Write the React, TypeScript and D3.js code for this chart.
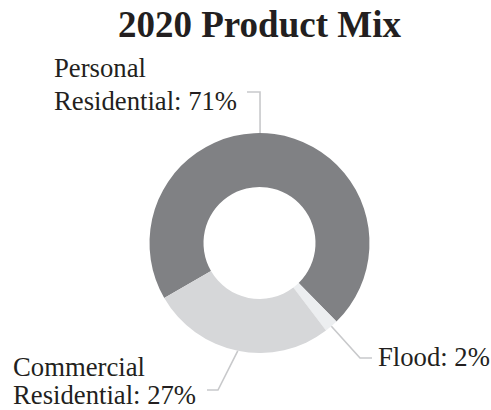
import React from "react";
import * as d3 from "d3";

const categories = ["Personal Residential", "Flood", "Commercial Residential"];
const values = [71, 2, 27];
const labelLines = [["Personal", "Residential: 71%"], ["Flood: 2%"], ["Commercial", "Residential: 27%"]];
const colors = ["#808184", "#eceef0", "#d6d7d9"];

const W = 491;
const H = 410;
const cx = 259.5;
const cy = 243;
const rOuter = 110;
const rInner = 56;

// label layout: text position, leader elbow, leader end, anchor angle (deg, null = slice middle)
const labelLayout = [
  { x: 54, y: [77, 110], elbow: [260, 92], end: [247, 92], anchorDeg: 0.3 },
  { x: 378, y: [366], elbow: [360, 358], end: [372, 358], anchorDeg: null },
  { x: 13, y: [376, 404], elbow: [218, 390], end: [207, 390], anchorDeg: null },
];

export default function App() {
  const start = (-120 * Math.PI) / 180;
  const pie = d3
    .pie<number>()
    .sort(null)
    .value((d) => d)
    .startAngle(start)
    .endAngle(start + 2 * Math.PI);
  const arcs = pie(values);
  const arcGen = d3.arc<d3.PieArcDatum<number>>().innerRadius(rInner).outerRadius(rOuter);

  const font = "'Liberation Serif', 'Times New Roman', serif";

  return (
    <svg
      width={W}
      height={H}
      style={{ position: "absolute", left: 0, top: 0, background: "#fff" }}
    >
      <text
        x={cx}
        y={37}
        textAnchor="middle"
        fontFamily={font}
        fontWeight="bold"
        fontSize={37}
        fill="#231f20"
      >
        2020 Product Mix
      </text>
      <g transform={`translate(${cx},${cy})`}>
        {arcs.map((a, i) => (
          <path key={categories[i]} d={arcGen(a) || ""} fill={colors[i]} />
        ))}
      </g>
      {arcs.map((a, i) => {
        const L = labelLayout[i];
        const ang = L.anchorDeg !== null ? (L.anchorDeg * Math.PI) / 180 : (a.startAngle + a.endAngle) / 2;
        const ax = cx + rOuter * Math.sin(ang);
        const ay = cy - rOuter * Math.cos(ang);
        return (
          <g key={"lbl" + i}>
            <polyline
              points={`${ax},${ay} ${L.elbow[0]},${L.elbow[1]} ${L.end[0]},${L.end[1]}`}
              fill="none"
              stroke="#c8c9cb"
              strokeWidth={1.6}
            />
            {labelLines[i].map((t, j) => (
              <text
                key={j}
                x={L.x}
                y={L.y[j]}
                fontFamily={font}
                fontSize={26.7}
                fill="#231f20"
              >
                {t}
              </text>
            ))}
          </g>
        );
      })}
    </svg>
  );
}
